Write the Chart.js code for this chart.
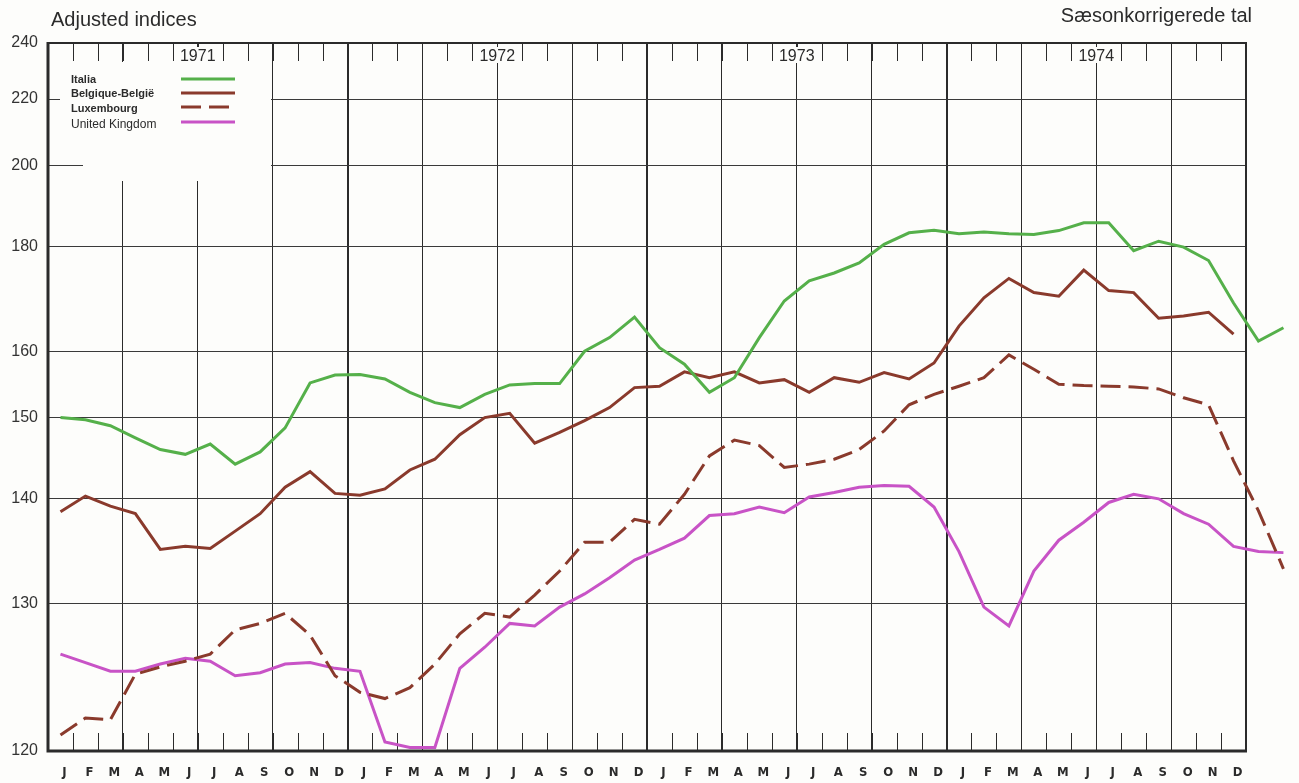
<!DOCTYPE html>
<html>
<head>
<meta charset="utf-8">
<title>Adjusted indices</title>
<script src="https://cdn.jsdelivr.net/npm/chart.js@4.4.1/dist/chart.umd.min.js"></script>
<style>
    html, body { margin: 0; padding: 0; background: #fdfdfb; }
    #wrap { width: 1299px; height: 783px; }
</style>
</head>
<body>
<div id="wrap"><canvas id="chart" width="1299" height="783"></canvas></div>
<script>
// Mois et années de l'axe horizontal
const monthLetters = ['J', 'F', 'M', 'A', 'M', 'J', 'J', 'A', 'S', 'O', 'N', 'D'];
const years = ['1971', '1972', '1973', '1974'];
const yTicks = [120, 130, 140, 150, 160, 180, 200, 220, 240];

// Indices corrigés des variations saisonnières (janv. 1971 -> févr. 1975)
const italia = [
    150.0, 149.7, 148.9, 147.3, 145.8, 145.2, 146.5, 144.0, 145.5, 148.6, 155.0, 156.2,
    156.3, 155.6, 153.6, 152.1, 151.4, 153.3, 154.7, 154.9, 154.9, 160.0, 162.3, 165.9,
    160.6, 157.9, 153.6, 155.8, 162.3, 168.9, 172.8, 174.4, 176.5, 180.5, 183.1, 183.7,
    182.9, 183.3, 182.9, 182.7, 183.6, 185.4, 185.4, 179.1, 181.2, 179.9, 177.0, 168.5,
    161.7, 164.0
];
const belgique = [
    138.6, 140.3, 139.2, 138.4, 134.8, 135.1, 134.9, 136.6, 138.4, 141.3, 143.1, 140.6,
    140.4, 141.1, 143.3, 144.6, 147.7, 150.0, 150.6, 146.6, 148.0, 149.6, 151.4, 154.3,
    154.5, 156.7, 155.8, 156.7, 155.0, 155.5, 153.6, 155.8, 155.1, 156.6, 155.6, 158.1,
    164.3, 169.5, 173.3, 170.5, 169.8, 175.0, 170.9, 170.5, 165.7, 166.1, 166.8, 162.9
];
const luxembourg = [
    120.9, 121.9, 121.8, 124.7, 125.2, 125.6, 126.1, 127.9, 128.4, 129.2, 127.5, 124.6,
    123.5, 123.1, 123.8, 125.4, 127.6, 129.2, 128.9, 130.7, 132.8, 135.5, 135.5, 137.8,
    137.3, 140.5, 145.0, 147.0, 146.3, 143.6, 144.0, 144.6, 145.8, 148.2, 151.8, 153.3,
    154.5, 155.8, 159.4, 157.1, 154.8, 154.6, 154.5, 154.4, 154.1, 152.8, 151.8, 144.4,
    138.7, 133.0
];
const unitedKingdom = [
    126.1, 125.5, 124.9, 124.9, 125.4, 125.8, 125.6, 124.6, 124.8, 125.4, 125.5, 125.1,
    124.9, 120.5, 120.2, 120.2, 125.1, 126.6, 128.4, 128.2, 129.7, 130.8, 132.2, 133.8,
    134.8, 135.9, 138.2, 138.4, 139.1, 138.5, 140.2, 140.7, 141.3, 141.5, 141.4, 139.1,
    134.6, 129.7, 128.2, 132.8, 135.7, 137.5, 139.6, 140.5, 140.0, 138.4, 137.3, 135.1,
    134.6, 134.5
];

const months = years.flatMap(() => monthLetters);

// L'échelle d'origine est logarithmique sur (valeur - 100)
const AXIS_OFFSET = 100;
const PAPER = '#fdfdfb';
const INK = '#2b2b2b';
const FONT = '"Liberation Sans", Arial, sans-serif';
const NARROW = '"Liberation Sans Narrow", "DejaVu Sans Condensed", "Liberation Sans", sans-serif';

const GREEN = '#55b04a';
const BROWN = '#8a3a2c';
const MAGENTA = '#c853c6';

function toPoints(values) {
    return values.map((v, i) => ({ x: i, y: v - AXIS_OFFSET }));
}

// Décor : cadre, petits traits des mois, années, légende et titres
const paperPlugin = {
    id: 'paper',
    beforeDraw(chart) {
        const { ctx, width, height } = chart;
        ctx.save();
        ctx.fillStyle = PAPER;
        ctx.fillRect(0, 0, width, height);
        ctx.restore();
    },
    beforeDatasetsDraw(chart) {
        const { ctx, chartArea: a, scales: { x } } = chart;
        ctx.save();

        // petits traits des mois, en haut et en bas
        ctx.strokeStyle = INK;
        ctx.lineWidth = 1;
        for (let i = 1; i < months.length; i++) {
            const px = Math.round(x.getPixelForValue(i - 0.5)) + 0.5;
            ctx.beginPath();
            ctx.moveTo(px, a.top);
            ctx.lineTo(px, a.top + 18);
            ctx.moveTo(px, a.bottom - 18);
            ctx.lineTo(px, a.bottom);
            ctx.stroke();
        }

        // zone blanche de la légende
        ctx.fillStyle = PAPER;
        ctx.fillRect(60, 62, 208, 100);
        ctx.fillRect(83, 62, 188, 119);

        // années
        ctx.font = '16px ' + FONT;
        ctx.textAlign = 'center';
        ctx.textBaseline = 'alphabetic';
        years.forEach((year, k) => {
            const cx = x.getPixelForValue(12 * k + 5.5);
            ctx.fillStyle = PAPER;
            ctx.fillRect(cx - 19, 47, 38, 16);
            ctx.fillStyle = INK;
            ctx.fillText(year, cx, 61);
        });

        // légende
        const legendY = [79, 93, 107, 122];
        const textY = [80, 94, 109, 125];
        chart.data.datasets.forEach((ds, i) => {
            ctx.font = (i < 3 ? 'bold 11px ' : '12px ') + FONT;
            ctx.textAlign = 'left';
            ctx.textBaseline = 'middle';
            ctx.fillStyle = INK;
            ctx.fillText(ds.label, 71, textY[i]);
            ctx.strokeStyle = ds.borderColor;
            ctx.lineWidth = 3;
            ctx.setLineDash(ds.borderDash || []);
            ctx.beginPath();
            ctx.moveTo(181, legendY[i]);
            ctx.lineTo(235, legendY[i]);
            ctx.stroke();
            ctx.setLineDash([]);
        });

        // cadre
        ctx.strokeStyle = INK;
        ctx.lineWidth = 2;
        ctx.beginPath();
        ctx.moveTo(a.left, a.top);
        ctx.lineTo(a.right, a.top);
        ctx.lineTo(a.right, a.bottom);
        ctx.stroke();
        ctx.lineWidth = 3;
        ctx.beginPath();
        ctx.moveTo(a.left, a.top - 1);
        ctx.lineTo(a.left, a.bottom);
        ctx.lineTo(a.right + 1, a.bottom);
        ctx.stroke();
        ctx.restore();
    },
    afterDraw(chart) {
        const { ctx } = chart;
        ctx.save();
        ctx.fillStyle = INK;
        ctx.font = '20px ' + FONT;
        ctx.textBaseline = 'alphabetic';
        ctx.textAlign = 'left';
        ctx.fillText('Adjusted indices', 51, 26);
        ctx.textAlign = 'right';
        ctx.fillText('Sæsonkorrigerede tal', 1252, 22);
        ctx.restore();
    }
};

new Chart(document.getElementById('chart'), {
    type: 'line',
    data: {
        datasets: [
            { label: 'Italia', data: toPoints(italia), borderColor: GREEN },
            { label: 'Belgique-België', data: toPoints(belgique), borderColor: BROWN },
            { label: 'Luxembourg', data: toPoints(luxembourg), borderColor: BROWN, borderDash: [20, 8] },
            { label: 'United Kingdom', data: toPoints(unitedKingdom), borderColor: MAGENTA }
        ]
    },
    options: {
        responsive: false,
        animation: false,
        layout: { padding: { top: 43, right: 53, left: 0, bottom: 0 } },
        datasets: {
            line: { clip: false, borderWidth: 3, tension: 0, pointRadius: 0, fill: false }
        },
        plugins: {
            legend: { display: false },
            tooltip: { enabled: false }
        },
        scales: {
            x: {
                type: 'linear',
                bounds: 'data',
                afterDataLimits: s => { s.min = -0.5; s.max = months.length - 0.5; },
                afterBuildTicks: s => { s.ticks = months.map((m, i) => ({ value: i })); },
                afterFit: s => { s.height = 32; },
                border: { display: false },
                grid: {
                    offset: true,
                    drawTicks: false,
                    color: c => (c.index % 3 === 0 ? INK : 'rgba(0,0,0,0)'),
                    lineWidth: c => (c.index % 12 === 0 ? 2 : 1)
                },
                ticks: {
                    autoSkip: false,
                    maxRotation: 0,
                    padding: 14,
                    labelOffset: 4,
                    color: INK,
                    font: { family: NARROW, size: 13, weight: 'bold' },
                    callback: v => months[v]
                }
            },
            y: {
                type: 'logarithmic',
                min: yTicks[0] - AXIS_OFFSET,
                max: yTicks[yTicks.length - 1] - AXIS_OFFSET,
                afterBuildTicks: s => {
                    s.ticks = yTicks.map(t => ({ value: t - AXIS_OFFSET }));
                    s.min = yTicks[0] - AXIS_OFFSET;
                    s.max = yTicks[yTicks.length - 1] - AXIS_OFFSET;
                },
                afterFit: s => { s.width = 48; },
                border: { display: false },
                grid: { drawTicks: false, color: '#3a3a3a', lineWidth: 1 },
                ticks: {
                    padding: 10,
                    color: '#333',
                    font: { family: FONT, size: 16 },
                    callback: v => String(Math.round(v + AXIS_OFFSET))
                }
            }
        }
    },
    plugins: [paperPlugin]
});
</script>
</body>
</html>
